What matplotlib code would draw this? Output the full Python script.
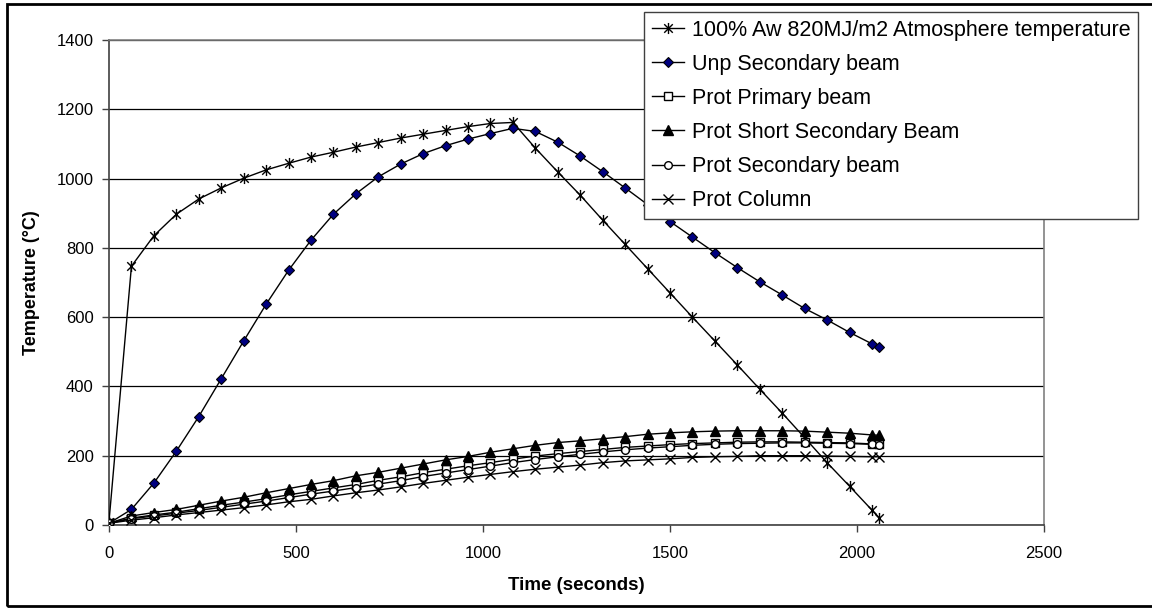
import matplotlib
matplotlib.use("Agg")
import matplotlib.pyplot as plt
from matplotlib.path import Path
from matplotlib.patches import Rectangle

plt.rcParams['font.family'] = ['Liberation Sans', 'DejaVu Sans']

time_s = [0, 60, 120, 180, 240, 300, 360, 420, 480, 540, 600, 660, 720, 780, 840, 900,
          960, 1020, 1080, 1140, 1200, 1260, 1320, 1380, 1440, 1500, 1560, 1620, 1680,
          1740, 1800, 1860, 1920, 1980, 2040, 2060]

atmosphere = [10, 747, 835, 897, 941, 973, 1001, 1025, 1044, 1062, 1076, 1091, 1104, 1117,
              1128, 1139, 1150, 1159, 1162, 1088, 1019, 952, 880, 810, 740, 670, 600, 531,
              462, 392, 323, 252, 180, 112, 43, 20]
unp_secondary = [5, 45, 121, 213, 313, 422, 531, 637, 735, 822, 897, 956, 1005, 1042, 1072,
                 1095, 1114, 1130, 1145, 1136, 1105, 1065, 1020, 973, 925, 876, 831, 786,
                 743, 702, 664, 625, 592, 556, 523, 514]
prot_primary = [5, 20, 29, 37, 47, 57, 66, 76, 87, 97, 107, 117, 129, 139, 151, 161, 171,
                180, 190, 199, 206, 212, 218, 224, 228, 232, 235, 237, 239, 240, 240, 239,
                238, 237, 234, 233]
prot_short_secondary = [5, 26, 36, 45, 57, 69, 80, 93, 105, 117, 128, 142, 152, 164, 176, 188,
                        198, 210, 220, 230, 238, 243, 249, 255, 262, 266, 269, 271, 272, 272,
                        272, 271, 268, 265, 260, 259]
prot_secondary = [5, 18, 26, 34, 42, 51, 60, 69, 79, 89, 98, 108, 118, 128, 140, 150, 160,
                  170, 180, 189, 197, 204, 211, 217, 222, 226, 230, 233, 235, 236, 237, 237,
                  236, 235, 233, 232]
prot_column = [5, 14, 21, 29, 36, 43, 50, 58, 67, 74, 84, 93, 101, 110, 120, 129, 138, 146,
               154, 161, 167, 173, 180, 185, 188, 191, 195, 197, 198, 200, 200, 200, 199,
               198, 197, 197]

labels = ["100% Aw 820MJ/m2 Atmosphere temperature", "Unp Secondary beam",
          "Prot Primary beam", "Prot Short Secondary Beam", "Prot Secondary beam",
          "Prot Column"]

x_ticks = [0, 500, 1000, 1500, 2000, 2500]
y_ticks = [0, 200, 400, 600, 800, 1000, 1200, 1400]

star = Path([(-1, -1), (1, 1), (-1, 1), (1, -1), (0, -1.3), (0, 1.3)],
            [Path.MOVETO, Path.LINETO, Path.MOVETO, Path.LINETO, Path.MOVETO, Path.LINETO])

fig = plt.figure(figsize=(11.52, 6.10), dpi=100)
ax = fig.add_axes([109/1152, 1 - 525/610, (1044-109)/1152, (525-40)/610])

lw = 1.0
ax.plot(time_s, atmosphere, color='black', lw=lw, marker=star, ms=8, mew=1.0,
        mec='black', label=labels[0], zorder=3)
ax.plot(time_s, unp_secondary, color='black', lw=lw, marker='D', ms=5.5, mfc='#000080',
        mec='black', mew=0.8, label=labels[1], zorder=3)
ax.plot(time_s, prot_primary, color='black', lw=lw, marker='s', ms=5.5, mfc='white',
        mec='black', mew=1.0, label=labels[2], zorder=3)
ax.plot(time_s, prot_short_secondary, color='black', lw=lw, marker='^', ms=6.5, mfc='black',
        mec='black', label=labels[3], zorder=3)
ax.plot(time_s, prot_secondary, color='black', lw=lw, marker='o', ms=5.5, mfc='white',
        mec='black', mew=1.0, label=labels[4], zorder=3)
ax.plot(time_s, prot_column, color='black', lw=lw, marker='x', ms=7, mew=1.0,
        mec='black', label=labels[5], zorder=3)

ax.set_xlim(0, 2500)
ax.set_ylim(0, 1400)
ax.set_xticks(x_ticks)
ax.set_yticks(y_ticks)
ax.tick_params(axis='both', labelsize=12, direction='out', length=5, width=1,
               color='#404040', pad=6)
ax.tick_params(axis='x', pad=10)
ax.grid(axis='y', color='black', lw=0.9, zorder=1)
ax.set_axisbelow(True)
for side in ['left', 'bottom']:
    ax.spines[side].set_color('#404040')
    ax.spines[side].set_linewidth(1.2)
for side in ['top', 'right']:
    ax.spines[side].set_color('#808080')
    ax.spines[side].set_linewidth(1.2)

ax.set_xlabel("Time (seconds)", fontsize=13.5, fontweight='bold', labelpad=12)
ax.set_ylabel("Temperature (°C)", fontsize=13, fontweight='bold', labelpad=12)

leg = fig.legend(loc='upper right', bbox_to_anchor=(1138/1152, 1 - 12/610),
                 fontsize=15.5, frameon=True, fancybox=False, framealpha=1,
                 edgecolor='#404040', handlelength=1.5, handletextpad=0.35,
                 labelspacing=0.61, borderpad=0.35, borderaxespad=0)
leg.get_frame().set_linewidth(1.0)

fig.patches.append(Rectangle((7/1152, 1 - 606/610), 1.2, (606-4)/610,
                             transform=fig.transFigure, fill=False, edgecolor='black',
                             lw=2, zorder=0))

fig.savefig("out.png", dpi=100)
